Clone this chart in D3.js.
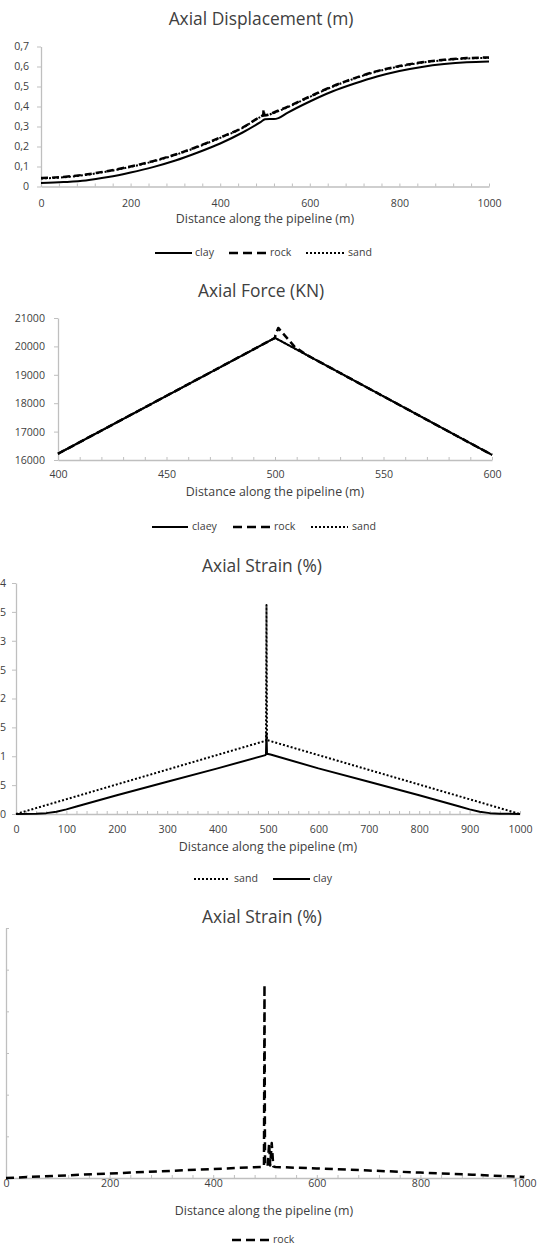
<!DOCTYPE html>
<html><head><meta charset="utf-8">
<script src="https://cdn.jsdelivr.net/npm/d3@7"></script>
<style>
body{margin:0;background:#fff}
svg{display:block}
text{font-family:"Open Sans",sans-serif;fill:#404040}
</style>
</head><body>
<svg id="c" width="540" height="1251"></svg>
<script>
// ---------- DATA ----------
// Chart 1: Axial Displacement (m)
const dispClayX = [0,50,100,150,200,250,300,350,400,450,490,500,510,520,530,550,600,650,700,750,800,850,900,950,1000];
const dispClayY = [0.017,0.022,0.03,0.047,0.07,0.097,0.13,0.17,0.215,0.27,0.322,0.336,0.338,0.337,0.342,0.368,0.425,0.475,0.515,0.55,0.578,0.598,0.612,0.621,0.625];
const dispRockX = [0,50,100,150,200,250,300,350,400,450,490,496,497,499,510,520,550,600,650,700,750,800,850,900,950,1000];
const dispRockY = [0.042,0.048,0.06,0.078,0.1,0.127,0.16,0.2,0.245,0.295,0.35,0.358,0.385,0.355,0.36,0.37,0.398,0.45,0.5,0.542,0.577,0.602,0.621,0.634,0.642,0.645];
const dispSandX = [0,50,100,150,200,250,300,350,400,450,490,500,510,520,550,600,650,700,750,800,850,900,950,1000];
const dispSandY = [0.04,0.046,0.058,0.076,0.098,0.125,0.158,0.198,0.243,0.293,0.348,0.357,0.36,0.368,0.396,0.448,0.498,0.54,0.575,0.6,0.619,0.632,0.64,0.643];
const dispYTicks = [0,0.1,0.2,0.3,0.4,0.5,0.6,0.7];
const dispXTicks = [0,200,400,600,800,1000];

// Chart 2: Axial Force (KN)
const forceClayX = [400,500,600];
const forceClayY = [16220,20300,16180];
const forceRockX = [400,500,500.2,501.5,509,515,600];
const forceRockY = [16220,20300,20400,20650,19990,19682,16180];
const forceSandX = [400,500,600];
const forceSandY = [16220,20300,16180];
const forceYTicks = [16000,17000,18000,19000,20000,21000];
const forceXTicks = [400,450,500,550,600];

// Chart 3: Axial Strain (%) sand / clay
const strainClayX = [0,40,60,80,100,120,200,300,400,495,496,497,498,500,505,600,700,800,880,900,920,940,960,1000];
const strainClayY = [0,0.0005,0.0015,0.004,0.008,0.013,0.0325,0.056,0.079,0.102,0.104,0.14,0.104,0.104,0.103,0.079,0.056,0.0325,0.013,0.008,0.004,0.0015,0.0005,0];
const strainSandX = [0,496,497,498,1000];
const strainSandY = [0,0.127,0.362,0.128,0];
const strainYTicks = [0,0.05,0.1,0.15,0.2,0.25,0.3,0.35,0.4];
const strainXTicks = [0,100,200,300,400,500,600,700,800,900,1000];

// Chart 4: Axial Strain (%) rock
const rockStrainX = [0,100,200,300,400,498,499,500,505,508,510,513,516,520,600,700,800,900,1000];
const rockStrainY = [0,0.027,0.054,0.081,0.108,0.134,2.32,0.16,0.14,0.42,0.15,0.42,0.14,0.132,0.115,0.09,0.065,0.04,0.012];
const rockYTicks = [0,0.5,1,1.5,2,2.5,3];
const rockXTicks = [0,200,400,600,800,1000];

// ---------- DRAWING ----------
const svg = d3.select("#c");
const AX = "#bfbfbf";
const TICKFS = "10.6px", TITLEFS = "17.4px", AXTFS = "12.4px", LEGFS = "10.6px";
const STY = {
  clay:{dash:null,w:2},
  rock:{dash:"7,4",w:2.5},
  sand:{dash:"2,2",w:2}
};
const LEG = {
  clay:{dash:null,w:2},
  rock:{dash:"9,5",w:2.5},
  sand:{dash:"2,2",w:2}
};
const commaFmt = d => d === 0 ? "0" : String(d).replace(".", ",");

function drawChart(o){
  const g = svg.append("g");
  const x = d3.scaleLinear().domain(o.xDomain).range([o.left,o.right]);
  const y = d3.scaleLinear().domain(o.yDomain).range([o.bottom,o.top]);
  // title
  g.append("text").attr("x",o.titleX).attr("y",o.titleY).attr("text-anchor","middle")
    .attr("dominant-baseline","middle").style("font-size",TITLEFS).text(o.title);
  // minor x ticks (inside)
  const minor = d3.range(o.xDomain[0], o.xDomain[1]+1e-9, o.xMinor);
  const gm = g.append("g").attr("transform",`translate(0,${o.bottom})`)
    .call(d3.axisBottom(x).tickValues(minor).tickSize(-3).tickFormat(""));
  gm.select(".domain").remove();
  gm.selectAll("line").attr("stroke",AX);
  // x axis with labels
  const gx = g.append("g").attr("transform",`translate(0,${o.bottom})`)
    .call(d3.axisBottom(x).tickValues(o.xTicks).tickSizeInner(0).tickSizeOuter(0)
      .tickPadding(o.xPad).tickFormat(d3.format("d")));
  gx.select(".domain").attr("stroke",AX).attr("stroke-width",1.3);
  gx.selectAll("text").style("font-size",TICKFS).style("font-family","'Open Sans',sans-serif").attr("fill","#404040");
  // y axis
  const gy = g.append("g").attr("transform",`translate(${o.left},0)`)
    .call(d3.axisLeft(y).tickValues(o.yTicks).tickSizeInner(o.yTickSize).tickSizeOuter(0).tickPadding(o.yPad)
      .tickFormat(o.yLabels ? o.yFmt : ""));
  gy.select(".domain").attr("stroke",AX).attr("stroke-width",1.3);
  gy.selectAll("line").attr("stroke",AX);
  gy.selectAll("text").style("font-size",TICKFS).style("font-family","'Open Sans',sans-serif").attr("fill","#404040");
  // axis title
  g.append("text").attr("x",o.axTitleX).attr("y",o.axTitleY).attr("text-anchor","middle")
    .attr("dominant-baseline","middle").style("font-size",AXTFS).text("Distance along the pipeline (m)");
  // series
  const line = d3.line().x(d=>x(d[0])).y(d=>y(d[1])).curve(o.curve || d3.curveLinear);
  o.series.forEach(s=>{
    const pts = s.xs.map((v,i)=>[v,s.ys[i]]);
    const st = s.style;
    g.append("path").datum(pts).attr("d",line).attr("fill","none").attr("stroke","#000")
      .attr("stroke-width",st.w).attr("stroke-dasharray",st.dash).attr("stroke-linejoin","round");
  });
  // legend
  o.legend.forEach(l=>{
    g.append("line").attr("x1",l.x).attr("x2",l.x+l.len).attr("y1",o.legendY).attr("y2",o.legendY)
      .attr("stroke","#000").attr("stroke-width",l.style.w).attr("stroke-dasharray",l.style.dash);
    g.append("text").attr("x",l.tx).attr("y",o.legendY).attr("dominant-baseline","middle")
      .style("font-size",LEGFS).text(l.name);
  });
}

// Chart 1
drawChart({
  title:"Axial Displacement (m)", titleX:261, titleY:20,
  left:41, right:489, top:46.5, bottom:186.5,
  xDomain:[0,1000], yDomain:[0,0.7], xTicks:dispXTicks, xMinor:40, xPad:12.5,
  yTicks:dispYTicks, yLabels:true, yFmt:commaFmt, yTickSize:4, yPad:8,
  axTitleX:265, axTitleY:220, legendY:253, curve:d3.curveMonotoneX,
  series:[
    {xs:dispClayX, ys:dispClayY, style:STY.clay},
    {xs:dispRockX, ys:dispRockY, style:STY.rock},
    {xs:dispSandX, ys:dispSandY, style:STY.sand}
  ],
  legend:[
    {name:"clay", x:155, len:37, tx:195, style:LEG.clay},
    {name:"rock", x:229, len:38, tx:270, style:LEG.rock},
    {name:"sand", x:306, len:38, tx:348, style:LEG.sand}
  ]
});

// Chart 2
drawChart({
  title:"Axial Force (KN)", titleX:261, titleY:292,
  left:58, right:492, top:318, bottom:460,
  xDomain:[400,600], yDomain:[16000,21000], xTicks:forceXTicks, xMinor:10, xPad:10,
  yTicks:forceYTicks, yLabels:true, yFmt:d3.format("d"), yTickSize:4, yPad:9,
  axTitleX:275, axTitleY:493, legendY:527,
  series:[
    {xs:forceSandX, ys:forceSandY, style:STY.sand},
    {xs:forceRockX, ys:forceRockY, style:STY.rock},
    {xs:forceClayX, ys:forceClayY, style:STY.clay}
  ],
  legend:[
    {name:"claey", x:152, len:36, tx:192, style:LEG.clay},
    {name:"rock", x:233, len:37, tx:274, style:LEG.rock},
    {name:"sand", x:311, len:37, tx:352, style:LEG.sand}
  ]
});

// Chart 3
drawChart({
  title:"Axial Strain (%)", titleX:262, titleY:567,
  left:16, right:520, top:583, bottom:814,
  xDomain:[0,1000], yDomain:[0,0.4], xTicks:strainXTicks, xMinor:20, xPad:11,
  yTicks:strainYTicks, yLabels:true, yFmt:commaFmt, yTickSize:4, yPad:6,
  axTitleX:268, axTitleY:848, legendY:879,
  series:[
    {xs:strainClayX, ys:strainClayY, style:STY.clay},
    {xs:strainSandX, ys:strainSandY, style:STY.sand}
  ],
  legend:[
    {name:"sand", x:194, len:36, tx:234, style:LEG.sand},
    {name:"clay", x:273, len:37, tx:313, style:LEG.clay}
  ]
});

// Chart 4
drawChart({
  title:"Axial Strain (%)", titleX:262, titleY:918,
  left:6, right:524, top:928, bottom:1178,
  xDomain:[0,1000], yDomain:[0,3], xTicks:rockXTicks, xMinor:40, xPad:1.5,
  yTicks:rockYTicks, yLabels:false, yFmt:commaFmt, yTickSize:-3, yPad:4,
  axTitleX:264, axTitleY:1212, legendY:1240,
  series:[
    {xs:rockStrainX, ys:rockStrainY, style:{dash:"8,5",w:2.5}}
  ],
  legend:[
    {name:"rock", x:232, len:37, tx:273, style:LEG.rock}
  ]
});
</script>
</body></html>
